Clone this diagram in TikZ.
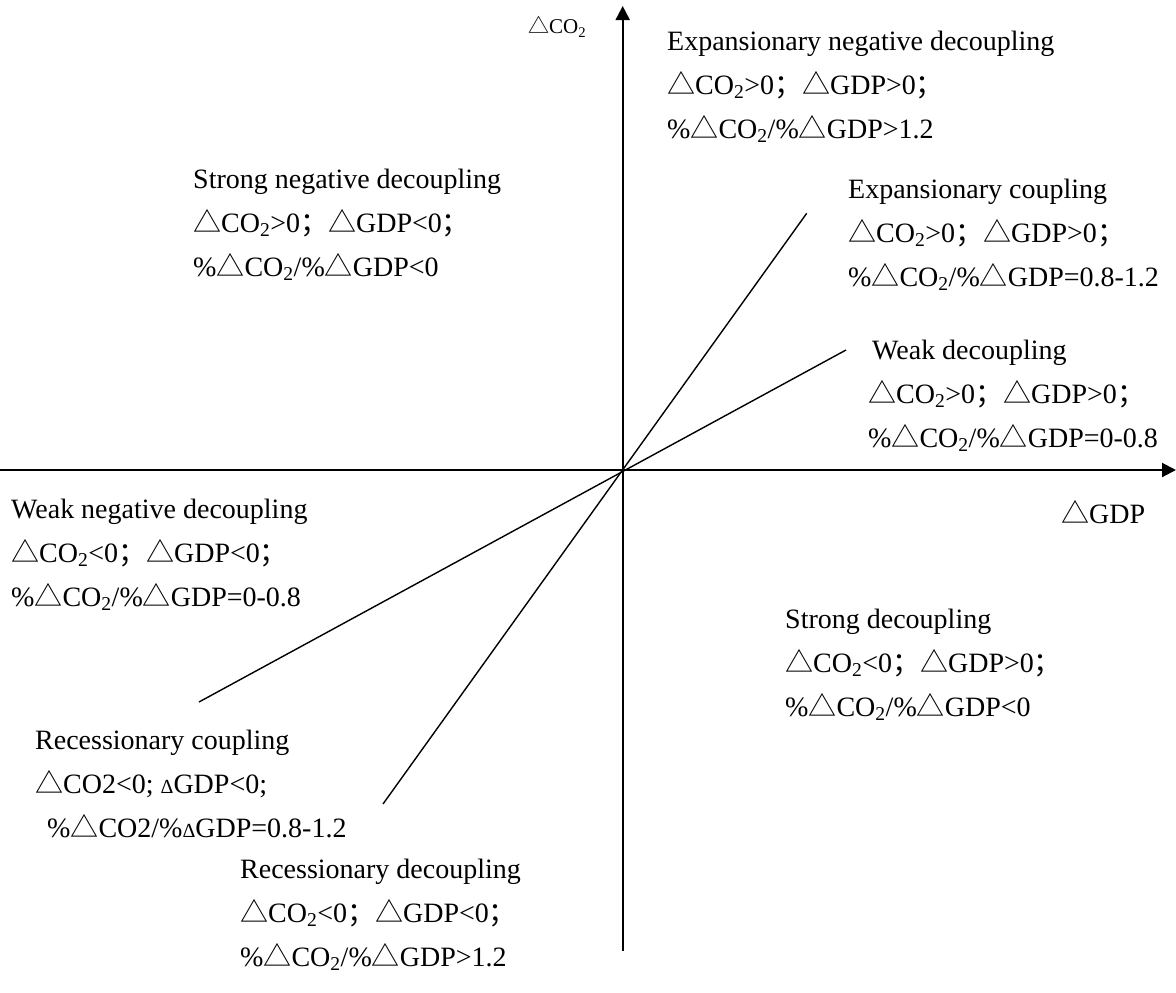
\documentclass[tikz,border=0pt]{standalone}
\usepackage{fontspec}
\setmainfont{Liberation Serif}
\newfontfamily\cjk{Noto Sans CJK SC}
\usetikzlibrary{arrows.meta}
\newcommand{\tri}{{\cjk △}}
\newcommand{\semi}{{\cjk ；}}
\newcommand{\cotwo}{CO\textsubscript{2}}
\newcommand{\smtri}{{\fontsize{20}{44}\selectfont Δ}}

\begin{document}
\begin{tikzpicture}[>={Triangle[length=14pt,width=14pt]}, x=1pt, y=-1pt,
  axis/.style={line width=2pt},
  ratio/.style={line width=1.4pt},
  lbl/.style={anchor=base west, align=left, inner sep=0pt,
    font=\fontsize{28}{44}\selectfont}]
  \useasboundingbox (0,0) rectangle (1176,993);
  % axes
  \coordinate (O) at (622.7,470);
  \coordinate (xl) at (0,470);
  \coordinate (xr) at (1176,470);
  \coordinate (yb) at (622.7,951);
  \coordinate (yt) at (622.7,6);
  \draw[axis,->] (xl) -- (xr);
  \draw[axis,->] (yb) -- (yt);
  % elasticity 1.2 and 0.8 lines
  \coordinate (hi1) at (806.7,213.3);
  \coordinate (hi2) at (383,804);
  \coordinate (lo1) at (846,350);
  \coordinate (lo2) at (199,702);
  \draw[ratio] (hi1) -- (hi2);
  \draw[ratio] (lo1) -- (lo2);
  % axis labels (base = last line)
  \node[lbl, font=\fontsize{21}{44}\selectfont] (ylab) at (528,34) {\tri\cotwo};
  \node[lbl] (xlab) at (1061,523) {\tri GDP};
  % regions
  \node[lbl] (expneg) at (667,138) {Expansionary negative decoupling\\
    \tri\cotwo>0\semi\tri GDP>0\semi\\
    \%\tri\cotwo/\%\tri GDP>1.2};
  \node[lbl] (strneg) at (193,276) {Strong negative decoupling\\
    \tri\cotwo>0\semi\tri GDP<0\semi\\
    \%\tri\cotwo/\%\tri GDP<0};
  \node[lbl] (expcpl) at (848,286) {Expansionary coupling\\
    \tri\cotwo>0\semi\tri GDP>0\semi\\
    \%\tri\cotwo/\%\tri GDP=0.8-1.2};
  \node[lbl] (weakdec) at (868,447) {\hspace{4pt}Weak decoupling\\
    \tri\cotwo>0\semi\tri GDP>0\semi\\
    \%\tri\cotwo/\%\tri GDP=0-0.8};
  \node[lbl] (weakneg) at (11,606) {Weak negative decoupling\\
    \tri\cotwo<0\semi\tri GDP<0\semi\\
    \%\tri\cotwo/\%\tri GDP=0-0.8};
  \node[lbl] (strdec) at (785,716) {Strong decoupling\\
    \tri\cotwo<0\semi\tri GDP>0\semi\\
    \%\tri\cotwo/\%\tri GDP<0};
  \node[lbl] (reccpl) at (35,837) {Recessionary coupling\\
    \tri CO2<0; \smtri GDP<0;\\
    \hspace{12pt}\%\tri CO2/\%\smtri GDP=0.8-1.2};
  \node[lbl] (recdec) at (240,966) {Recessionary decoupling\\
    \tri\cotwo<0\semi\tri GDP<0\semi\\
    \%\tri\cotwo/\%\tri GDP>1.2};
\end{tikzpicture}
\end{document}
